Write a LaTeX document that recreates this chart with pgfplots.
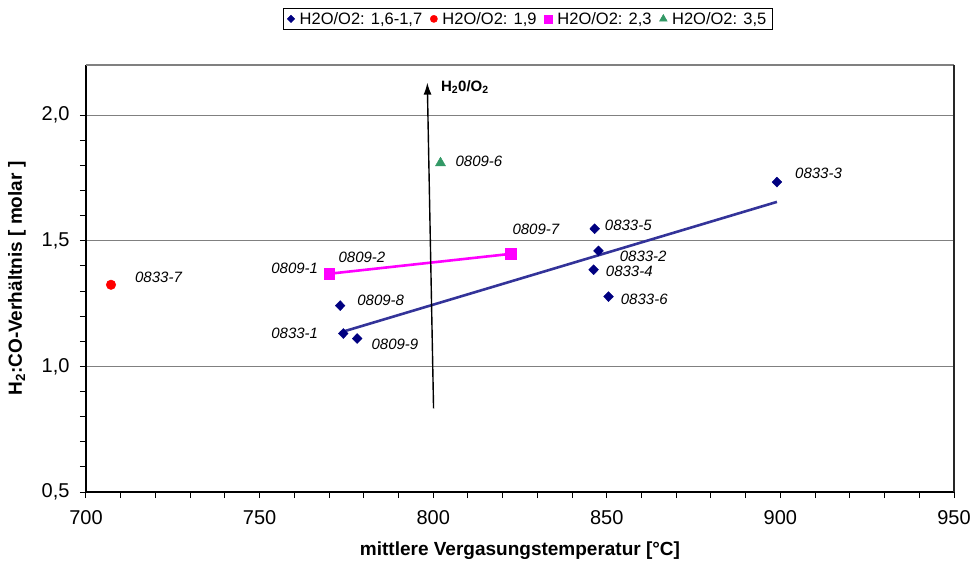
\documentclass[border=0pt]{standalone}
\usepackage{pgfplots}
\pgfplotsset{compat=1.18}
\usetikzlibrary{arrows.meta}
\usepackage{fontspec}
\setmainfont{Liberation Sans}
\definecolor{navy}{HTML}{000080}
\definecolor{trend}{HTML}{333399}
\definecolor{mag}{HTML}{FF00FF}
\definecolor{sea}{HTML}{339966}
\definecolor{gridgray}{HTML}{808080}
\begin{document}
\begin{tikzpicture}
\useasboundingbox (-86pt,-75pt) rectangle (887pt,492pt);
\begin{axis}[
  scale only axis,
  width=868pt, height=427pt,
  xmin=700, xmax=950, ymin=0.5, ymax=2.2,
  axis x line*=bottom, axis y line*=left,
  axis line style={black, line width=1.3pt},
  xtick={700,750,...,950},
  ytick={0.5,1.0,1.5,2.0},
  minor x tick num=4,
  minor y tick num=4,
  tick align=outside,
  major tick length=6pt, minor tick length=6pt,
  tick style={black, line width=1pt},
  ymajorgrids,
  major grid style={gridgray, line width=1.2pt},
  /pgf/number format/assume math mode=true,
  /pgf/number format/use comma,
  /pgf/number format/1000 sep={},
  yticklabel={\pgfmathprintnumber[fixed,fixed zerofill,precision=1]{\tick}},
  xticklabel style={font=\fontsize{20}{24}\selectfont, yshift=-9pt},
  yticklabel style={font=\fontsize{20}{24}\selectfont, xshift=-7pt},
  xlabel={mittlere Vergasungstemperatur [°C]},
  ylabel={H\textsubscript{2}:CO-Verhältnis [ molar ]},
  xlabel style={font=\bfseries\fontsize{19}{22}\selectfont, at={(axis description cs:0.5,-0.138)}, anchor=center},
  ylabel style={font=\bfseries\fontsize{19}{22}\selectfont, at={(axis description cs:-0.0795,0.5)}, anchor=center},
  clip=false,
  legend columns=4,
  legend style={at={(rel axis cs:0.509,1.108)}, anchor=center, draw=black, line width=0.8pt,
    font=\fontsize{16.5}{20}\selectfont, inner xsep=4pt, inner ysep=2pt,
    /tikz/every odd column/.append style={column sep=3pt},
    /tikz/every even column/.append style={column sep=6pt}},
  legend image code/.code={\draw[#1, line width=0.5pt, /tikz/every mark/.append style={scale=0.75}] plot coordinates {(0.12cm,0cm)};},
]
% legend-bearing series
\addplot[only marks, mark=diamond*, mark size=5pt, mark options={xscale=1.3}, color=navy] coordinates {
 (899.0,1.734) (846.5,1.548) (847.6,1.460) (846.2,1.385) (850.5,1.278)
 (773.2,1.242) (774.1,1.131) (778.1,1.111)};
\addlegendentry{H2O/O2: 1,6-1,7}
\addplot[only marks, mark=*, mark size=4.8pt, color=red] coordinates {(707.2,1.325)};
\addlegendentry{H2O/O2: 1,9}
\addplot[mag, line width=2.6pt, mark=none, forget plot] coordinates {(770.1,1.369) (822.3,1.448)};
\addplot[only marks, mark=square*, mark size=5.2pt, color=mag] coordinates {(770.1,1.369) (822.3,1.448)};
\addlegendentry{H2O/O2: 2,3}
\addplot[only marks, mark=triangle*, mark size=5.8pt, color=sea] coordinates {(802.1,1.81)};
\addlegendentry{H2O/O2: 3,5}
% trend line
\addplot[trend, line width=2.6pt, mark=none, forget plot] coordinates {(773.2,1.135) (899.0,1.655)};
% arrow
\addplot[black, line width=1.4pt, -{Latex[length=12pt,width=8pt]}, mark=none, forget plot] coordinates {(800.1,0.833) (798.3,2.13)};
% box top/right
\draw[gridgray, line width=1.2pt] (rel axis cs:0,1) -- (rel axis cs:1,1);
\draw[black!85, line width=1.3pt] (rel axis cs:1,0) -- (rel axis cs:1,1);
% labels
\begin{scope}[every node/.style={font=\itshape\fontsize{15}{18}\selectfont, inner sep=0pt}]
\node[anchor=west] at (axis cs:714.1,1.353) {0833-7};
\node[anchor=east] at (axis cs:766.9,1.389) {0809-1};
\node[anchor=west] at (axis cs:772.7,1.433) {0809-2};
\node[anchor=west] at (axis cs:822.8,1.544) {0809-7};
\node[anchor=west] at (axis cs:806.4,1.817) {0809-6};
\node[anchor=west] at (axis cs:778.1,1.262) {0809-8};
\node[anchor=east] at (axis cs:766.9,1.131) {0833-1};
\node[anchor=west] at (axis cs:782.2,1.087) {0809-9};
\node[anchor=west] at (axis cs:849.4,1.563) {0833-5};
\node[anchor=west] at (axis cs:853.7,1.440) {0833-2};
\node[anchor=west] at (axis cs:849.7,1.377) {0833-4};
\node[anchor=west] at (axis cs:854.0,1.266) {0833-6};
\node[anchor=west] at (axis cs:904.2,1.770) {0833-3};
\end{scope}
\node[anchor=west, font=\bfseries\fontsize{15}{18}\selectfont, inner sep=0pt] at (axis cs:802.2,2.112) {H\textsubscript{2}0/O\textsubscript{2}};
\end{axis}
\end{tikzpicture}
\end{document}
